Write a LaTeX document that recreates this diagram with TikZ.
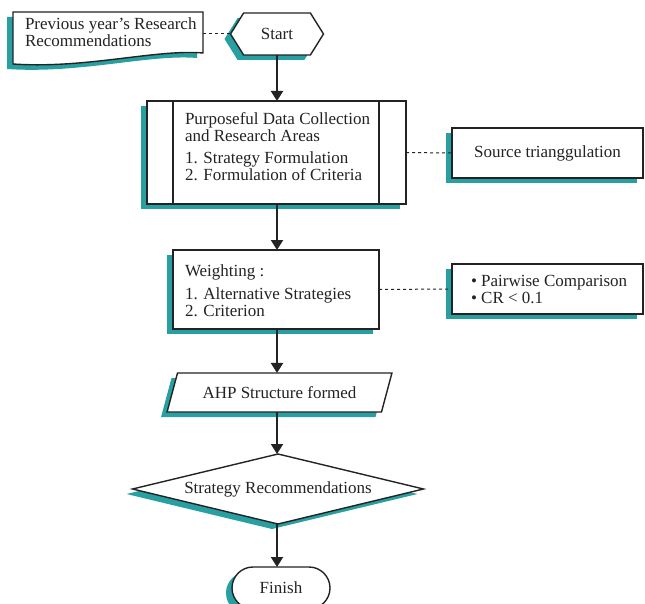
\documentclass[tikz,border=0pt]{standalone}
\usepackage{fontspec}
\setmainfont{Liberation Serif}
\usetikzlibrary{shapes.geometric,shapes.misc,shapes.symbols,shadows,arrows.meta}
\definecolor{tealshd}{RGB}{40,160,162}
\definecolor{ink}{RGB}{35,35,35}
\begin{document}
\begin{tikzpicture}[x=1pt,y=-1pt,
  font=\fontsize{17}{17}\selectfont,
  every node/.style={inner sep=0pt,outer sep=0pt,text=ink},
  shd/.style={drop shadow={shadow xshift=-6pt,shadow yshift=-5pt,fill=tealshd,opacity=1}},
  box/.style={draw=ink,line width=1.4pt,fill=white,shd},
  flow/.style={draw=ink,line width=2pt,-{Triangle[length=10pt,width=12pt]}},
  link/.style={draw=ink,dash pattern=on 3pt off 3pt,line width=1pt},
  txt/.style={anchor=base west,align=left}]
\useasboundingbox (0,0) rectangle (645,604);

% document shape
\fill[tealshd] (7,17) -- (197,17) -- (197,58) .. controls (150,54) and (80,74) .. (7,69) -- cycle;
\draw[line width=1.4pt,draw=ink,fill=white] (13,12) -- (203,12) -- (203,53) .. controls (156,49) and (86,69) .. (13,64) -- cycle;
\node[txt] (doc) at (25,47) {Previous year's Research\\Recommendations};
\coordinate (docR) at (203,34);

% start
\node[box,shape=signal,signal to=west and east,signal pointer angle=116,
      minimum width=93,minimum height=42] (start) at (277,34) {Start};

% process
\node[box,minimum width=259,minimum height=103] (proc) at (276.5,152.5) {};
\draw[line width=1.4pt,draw=ink] ([xshift=26pt]proc.north west) -- ([xshift=26pt]proc.south west);
\draw[line width=1.4pt,draw=ink] ([xshift=-27pt]proc.north east) -- ([xshift=-27pt]proc.south east);
\node[txt] (proctxt) at (185,181)
  {Purposeful Data Collection\\and Research Areas\\[5pt]1. Strategy Formulation\\2. Formulation of Criteria};

% source
\node[box,minimum width=191,minimum height=50,anchor=north west] (src) at (452,128) {Source trianggulation};

% weighting
\node[box,minimum width=206,minimum height=79] (wt) at (276,289.5) {};
\node[txt] (wttxt) at (185,316)
  {Weighting :\\[6pt]1. Alternative Strategies\\2. Criterion};

% pairwise
\node[box,minimum width=191,minimum height=50,anchor=north west] (pw) at (452,264) {};
\node[txt] (pwtxt) at (471,303)
  {• Pairwise Comparison\\• CR < 0.1};

% AHP
\node[box,trapezium,trapezium left angle=57,trapezium right angle=123,trapezium stretches=true,
      minimum width=225,minimum height=39] (ahp) at (279.5,392.5) {AHP Structure formed};

% decision
\node[box,diamond,aspect=4.16,minimum width=291,minimum height=70] (rec) at (278,489) {Strategy Recommendations};

% finish
\node[box,rounded rectangle,minimum width=98,minimum height=42] (fin) at (281,588) {Finish};

% connectors
\draw[link] (docR) -- (start.west);
\draw[link] (proc.east) -- (src.west);
\draw[link] (wt.east) -- (pw.west);
\draw[flow] (start.south) -- (start.south |- proc.north);
\draw[flow] (start.south |- proc.south) -- (start.south |- wt.north);
\draw[flow] (start.south |- wt.south) -- (start.south |- ahp.north);
\draw[flow] (start.south |- ahp.south) -- (start.south |- rec.north);
\draw[flow] (start.south |- rec.south) -- (start.south |- fin.north);
\end{tikzpicture}
\end{document}
